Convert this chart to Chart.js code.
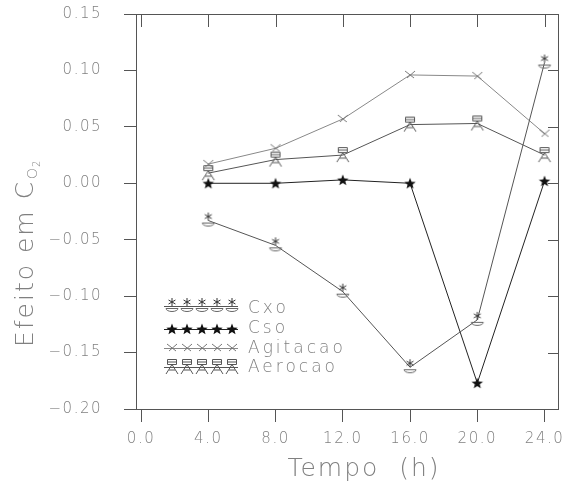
<!DOCTYPE html>
<html>
<head>
<meta charset="utf-8">
<script src="https://cdn.jsdelivr.net/npm/chart.js@4/dist/chart.umd.min.js"></script>
<style>
html, body { margin: 0; padding: 0; background: #fff; }
</style>
</head>
<body>
<canvas id="efeitoChart" width="565" height="491"></canvas>
<script>
// valores
var tempos = [4, 8, 12, 16, 20, 24];
var cxo = [-0.033, -0.055, -0.096, -0.163, -0.121, 0.107];
var cso = [0.000, 0.000, 0.003, 0.000, -0.177, 0.002];
var agitacao = [0.017, 0.031, 0.057, 0.096, 0.095, 0.044];
var aerocao = [0.009, 0.021, 0.025, 0.052, 0.053, 0.025];
var nomes = ['Cxo', 'Cso', 'Agitacao', 'Aerocao'];
var xTicks = [0, 4, 8, 12, 16, 20, 24];
var yTicks = [-0.20, -0.15, -0.10, -0.05, 0.00, 0.05, 0.10, 0.15];

var fonte = "'DejaVu Sans', sans-serif";
var cinza = '#808080';

function marcador(tipo) {
    var c = document.createElement('canvas');
    c.width = 18;
    c.height = 18;
    var g = c.getContext('2d');
    g.lineWidth = 1;
    if (tipo == 'Cxo') {
        g.strokeStyle = '#333';
        g.beginPath();
        for (var i = 0; i < 3; i++) {
            var a = Math.PI / 2 + i * Math.PI / 3;
            g.moveTo(9 + 4 * Math.cos(a), 5 + 4 * Math.sin(a));
            g.lineTo(9 - 4 * Math.cos(a), 5 - 4 * Math.sin(a));
        }
        g.stroke();
        g.strokeStyle = '#666';
        g.beginPath();
        g.moveTo(3, 11.5);
        g.lineTo(15, 11.5);
        g.ellipse(9, 11.5, 6, 3, 0, 0, Math.PI);
        g.stroke();
    } else if (tipo == 'Cso') {
        g.fillStyle = '#111';
        g.beginPath();
        for (var j = 0; j < 10; j++) {
            var r = (j % 2 == 0) ? 6 : 2.6;
            var b = -Math.PI / 2 + j * Math.PI / 5;
            g.lineTo(9 + r * Math.cos(b), 9.5 + r * Math.sin(b));
        }
        g.closePath();
        g.fill();
    } else if (tipo == 'Agitacao') {
        g.strokeStyle = '#777';
        g.beginPath();
        g.moveTo(4, 5);
        g.lineTo(13, 12);
        g.moveTo(14, 5);
        g.lineTo(6, 12);
        g.stroke();
    } else {
        g.strokeStyle = '#555';
        g.beginPath();
        g.rect(4.5, 1.5, 9, 5);
        g.moveTo(4.5, 4);
        g.lineTo(13.5, 4);
        g.moveTo(9, 6.5);
        g.lineTo(3, 16);
        g.moveTo(9, 6.5);
        g.lineTo(15, 16);
        g.moveTo(6, 12);
        g.lineTo(12, 12);
        g.stroke();
    }
    return c;
}

var marcadores = {};
nomes.forEach(function (n) { marcadores[n] = marcador(n); });

function serie(nome, valores, cor) {
    return {
        label: nome,
        data: tempos.map(function (t, i) { return { x: t, y: valores[i] }; }),
        borderColor: cor,
        borderWidth: 1,
        pointStyle: marcadores[nome],
        pointRadius: 6,
        fill: false,
        tension: 0
    };
}

var extras = {
    id: 'extras',
    beforeDraw: function (chart) {
        chart.ctx.letterSpacing = '1.5px';
    },
    afterDraw: function (chart) {
        var ctx = chart.ctx;
        var sx = chart.scales.x;
        var sy = chart.scales.y;
        var area = chart.chartArea;
        ctx.save();
        // ticks internos em cima e na direita
        ctx.fillStyle = '#555';
        xTicks.forEach(function (v) {
            var px = Math.round(sx.getPixelForValue(v));
            if (px - area.left < 3) return;
            ctx.fillRect(px, area.top, 1, 13);
        });
        yTicks.forEach(function (v) {
            var py = Math.round(sy.getPixelForValue(v));
            ctx.fillRect(area.right - 10, py, 10, 1);
        });

        // legenda
        var linhas = [306, 329, 348, 367];
        var textoY = [309, 329, 349, 368];
        var cores = ['#555', '#222', '#888', '#555'];
        var posX = [172, 187, 202, 217, 232];
        ctx.lineWidth = 1;
        nomes.forEach(function (n, i) {
            ctx.strokeStyle = cores[i];
            ctx.beginPath();
            ctx.moveTo(164, linhas[i] + 0.5);
            ctx.lineTo(238, linhas[i] + 0.5);
            ctx.stroke();
            posX.forEach(function (px) {
                ctx.drawImage(marcadores[n], px - 9, linhas[i] - 9);
            });
            ctx.fillStyle = cinza;
            ctx.font = '200 17px ' + fonte;
            ctx.letterSpacing = '3px';
            ctx.textAlign = 'left';
            ctx.textBaseline = 'middle';
            ctx.fillText(n, 248, textoY[i]);
        });

        // titulos dos eixos
        ctx.fillStyle = cinza;
        ctx.font = '200 25px ' + fonte;
        ctx.letterSpacing = '2px';
        ctx.textAlign = 'center';
        ctx.textBaseline = 'alphabetic';
        ctx.fillText('Tempo  (h)', 364, 476);

        ctx.translate(33, 347);
        ctx.rotate(-Math.PI / 2);
        ctx.textAlign = 'left';
        ctx.fillText('Efeito em C', 0, 0);
        var w = ctx.measureText('Efeito em C').width;
        ctx.font = '200 14px ' + fonte;
        ctx.letterSpacing = '1px';
        ctx.fillText('O', w + 1, 4);
        var w2 = ctx.measureText('O').width;
        ctx.font = '200 10px ' + fonte;
        ctx.fillText('2', w + w2 + 1, 7);
        ctx.restore();
    }
};

window.onload = function () {
    var ctx = document.getElementById('efeitoChart');
    var config = {
        type: 'line',
        data: {
            datasets: [
                serie('Cxo', cxo, '#555'),
                serie('Cso', cso, '#222'),
                serie('Agitacao', agitacao, '#888'),
                serie('Aerocao', aerocao, '#555')
            ]
        },
        options: {
            responsive: false,
            animation: false,
            layout: { padding: { top: 14, right: 5, left: 0, bottom: 0 } },
            plugins: {
                legend: { display: false },
                tooltip: { enabled: false }
            },
            scales: {
                x: {
                    type: 'linear',
                    min: -0.3,
                    max: 24.8,
                    afterBuildTicks: function (s) {
                        s.ticks = xTicks.map(function (v) { return { value: v }; });
                    },
                    afterFit: function (s) {
                        s.height = 82;
                        s.paddingLeft = 0;
                        s.paddingRight = 0;
                    },
                    ticks: {
                        autoSkip: false,
                        maxRotation: 0,
                        padding: 8,
                        color: cinza,
                        font: { family: fonte, size: 15, weight: 200 },
                        callback: function (v) { return v.toFixed(1); }
                    },
                    grid: { drawOnChartArea: false, tickLength: 13, color: '#555' },
                    border: { color: '#555' }
                },
                x2: {
                    type: 'linear',
                    position: 'top',
                    min: -0.3,
                    max: 24.8,
                    ticks: { display: false },
                    grid: { drawOnChartArea: false, drawTicks: false },
                    border: { color: '#555' },
                    afterFit: function (s) {
                        s.height = 0;
                        s.paddingLeft = 0;
                        s.paddingRight = 0;
                    }
                },
                y: {
                    min: -0.2,
                    max: 0.15,
                    afterBuildTicks: function (s) {
                        s.ticks = yTicks.map(function (v) { return { value: v }; });
                    },
                    afterFit: function (s) {
                        s.width = 136;
                        s.paddingTop = 0;
                        s.paddingBottom = 0;
                    },
                    ticks: {
                        padding: 22,
                        color: cinza,
                        font: { family: fonte, size: 15, weight: 200 },
                        callback: function (v) {
                            return (v < -0.0001 ? '\u2212' : '') + Math.abs(v).toFixed(2);
                        }
                    },
                    grid: { drawOnChartArea: false, tickLength: 12, color: '#555' },
                    border: { color: '#555' }
                },
                y2: {
                    position: 'right',
                    min: -0.2,
                    max: 0.15,
                    ticks: { display: false },
                    grid: { drawOnChartArea: false, drawTicks: false },
                    border: { color: '#555' },
                    afterFit: function (s) {
                        s.width = 0;
                        s.paddingTop = 0;
                        s.paddingBottom = 0;
                    }
                }
            }
        },
        plugins: [extras]
    };
    window.myChart = new Chart(ctx, config);
};
</script>
</body>
</html>
